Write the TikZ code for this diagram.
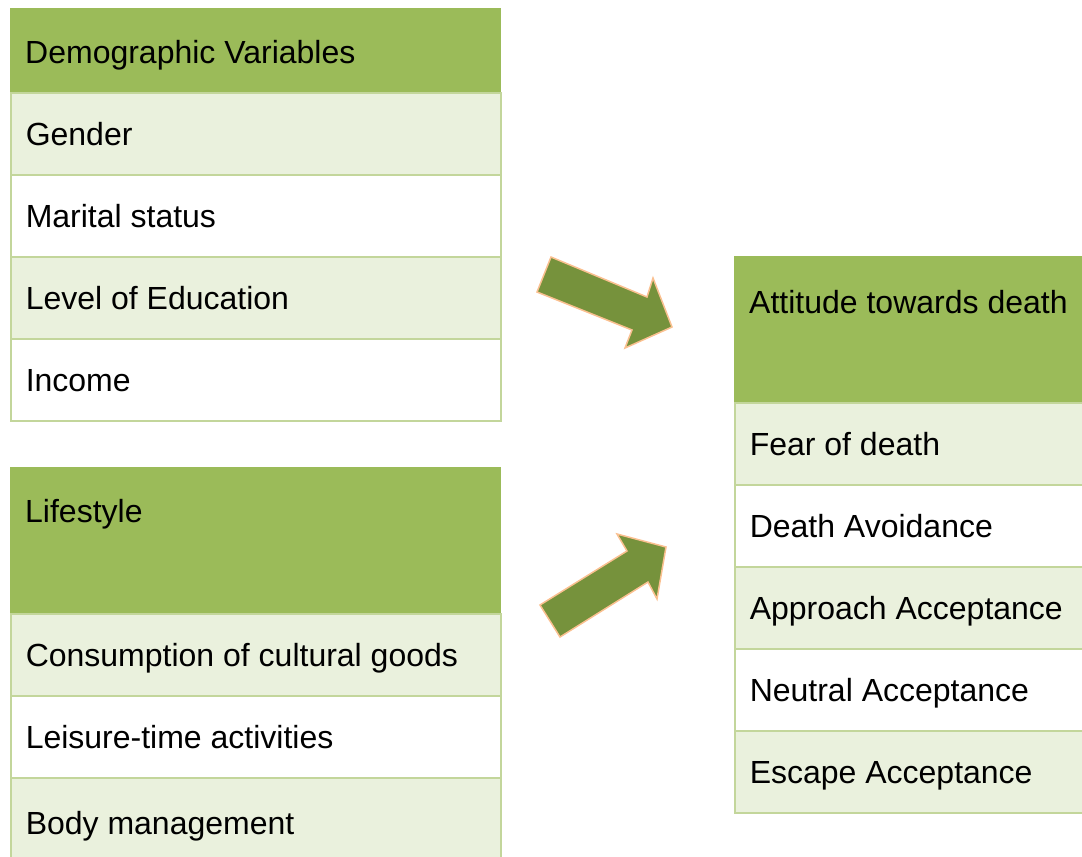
\documentclass[tikz,border=0pt]{standalone}
\usepackage{fontspec}
\setmainfont{Liberation Sans}
\definecolor{hdr}{HTML}{9BBB59}
\definecolor{lite}{HTML}{EAF1DD}
\definecolor{brd}{HTML}{C3D69B}
\definecolor{arrfill}{HTML}{76923C}
\definecolor{arrline}{HTML}{FAC090}
\begin{document}
\begin{tikzpicture}[x=1pt,y=-1pt,
  cellbase/.style={anchor=north west, rectangle, text width=460pt, align=flush left,
    inner xsep=15pt, inner ysep=0pt, minimum height=82pt,
    text height=30pt, text depth=6pt,
    font=\fontsize{32}{38}\selectfont},
  lightcell/.style={cellbase, fill=lite, draw=brd, line width=1.5pt},
  whitecell/.style={cellbase, fill=white, draw=brd, line width=1.5pt},
  hdrcell/.style={anchor=north west, rectangle, fill=hdr, inner sep=0pt},
  hdrtext/.style={anchor=west, inner sep=0pt, font=\fontsize{32}{38}\selectfont},
  bigarrow/.style={fill=arrfill, draw=arrline, line width=1.5pt, line join=miter}]
\useasboundingbox (0,0) rectangle (1082,857);

% ---- Table 1: Demographic Variables
\node[hdrcell, minimum width=491pt, minimum height=84pt] (dh) at (10,8) {};
\node[hdrtext] (dht) at (25,55) {Demographic Variables};
\node[lightcell] (gender) at (10,92) {Gender};
\node[whitecell] (marital) at (10,174) {Marital status};
\node[lightcell] (educ) at (10,256) {Level of Education};
\node[whitecell] (income) at (10,338) {Income};

% ---- Table 2: Lifestyle
\node[hdrcell, minimum width=491pt, minimum height=146pt] (lh) at (10,467) {};
\node[hdrtext] (lht) at (25,514) {Lifestyle};
\node[lightcell] (cons) at (10,613) {Consumption of cultural goods};
\node[whitecell] (leis) at (10,695) {Leisure-time activities};
\node[lightcell, minimum height=90pt] (body) at (10,777) {Body management};

% ---- Table 3: Attitude towards death
\node[hdrcell, minimum width=360pt, minimum height=146pt] (ah) at (734,256) {};
\node[hdrtext] (aht) at (749,302) {Attitude towards death};
\node[lightcell] (fear) at (734,402) {Fear of death};
\node[whitecell] (avoid) at (734,484) {Death Avoidance};
\node[lightcell] (appr) at (734,566) {Approach Acceptance};
\node[whitecell] (neut) at (734,648) {Neutral Acceptance};
\node[lightcell] (esc) at (734,730) {Escape Acceptance};

% ---- Block arrows
\draw[bigarrow] (551,257) -- (647,297) -- (653,278) -- (672,327)
  -- (625,348) -- (632,330) -- (537,292) -- cycle;
\draw[bigarrow] (540,605) -- (627,551) -- (617,534) -- (666,547)
  -- (657,599) -- (648,582) -- (560,637) -- cycle;
\end{tikzpicture}
\end{document}
